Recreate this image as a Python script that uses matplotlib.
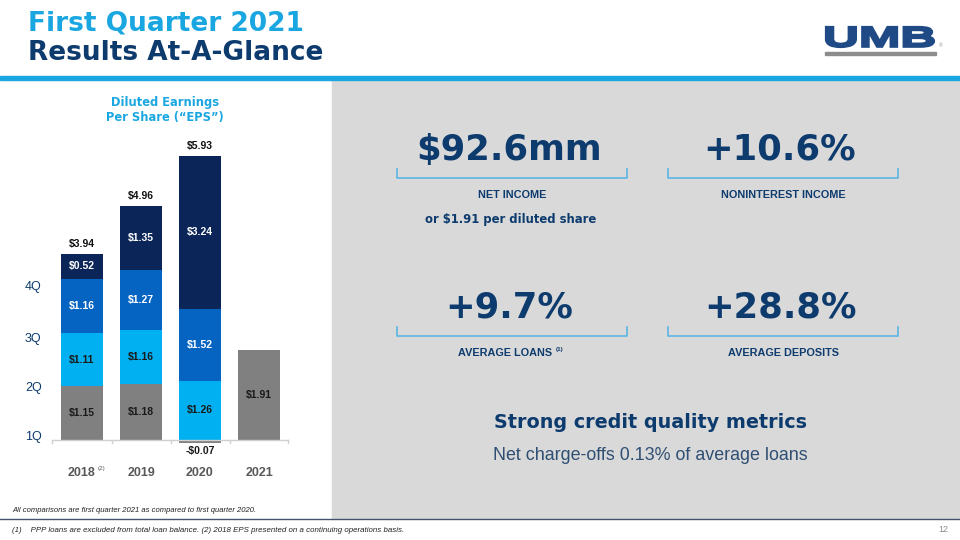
import matplotlib.pyplot as plt
from matplotlib.patches import Rectangle, PathPatch
from matplotlib.textpath import TextPath
from matplotlib.font_manager import FontProperties
from matplotlib.transforms import Affine2D

plt.rcParams['font.family'] = ['Liberation Sans', 'DejaVu Sans']

# EPS by quarter (diluted)
years = ['2018', '2019', '2020', '2021']
q1 = [1.15, 1.18, -0.07, 1.91]
q2 = [1.11, 1.16, 1.26, 0.0]
q3 = [1.16, 1.27, 1.52, 0.0]
q4 = [0.52, 1.35, 3.24, 0.0]
totals = ['$3.94', '$4.96', '$5.93', None]
quarter_labels = ['1Q', '2Q', '3Q', '4Q']

# headline metrics
kpi_values = ['$92.6mm', '+10.6%', '+9.7%', '+28.8%']
kpi_labels = ['NET INCOME', 'NONINTEREST INCOME', 'AVERAGE LOANS', 'AVERAGE DEPOSITS']

NAVY = '#0D3B6E'
LIGHT_BLUE = '#1AA7E1'
c_q1, c_q2, c_q3, c_q4 = '#808080', '#00B0F0', '#0563C1', '#0B2559'
HEAVY = 'DejaVu Sans'

W, H = 960, 540
fig = plt.figure(figsize=(9.6, 5.4), dpi=100)
fig.patch.set_facecolor('white')


def fx(px):
    return px / W


def fy(py):
    return 1 - py / H


# background layer in pixel coordinates
bg = fig.add_axes([0, 0, 1, 1])
bg.set_xlim(0, W)
bg.set_ylim(H, 0)
bg.axis('off')
bg.add_patch(Rectangle((332, 80), W - 332, 438, color='#D9D9D9', zorder=0))
bg.add_patch(Rectangle((0, 76), W, 4, color=LIGHT_BLUE, zorder=1))
bg.plot([0, W], [519, 519], color='#44546A', lw=1)

# title
bg.text(28, 23, 'First Quarter 2021', color=LIGHT_BLUE, fontsize=19, fontweight='bold', va='center',
        family=HEAVY)
bg.text(28, 53, 'Results At-A-Glance', color=NAVY, fontsize=19, fontweight='bold', va='center',
        family=HEAVY)

# logo, stretched to the box it fills in the slide
tp = TextPath((0, 0), 'UMB', size=1, prop=FontProperties(family='Liberation Sans', weight='bold'))
ext = tp.get_extents()
lx0, lx1, ly0, ly1 = 826, 934, 27, 47
tr = (Affine2D().translate(-ext.x0, -ext.y0)
      .scale((lx1 - lx0) / ext.width, -(ly1 - ly0) / ext.height)
      .translate(lx0, ly1))
bg.add_patch(PathPatch(tr.transform_path(tp), facecolor='#1F4A85', edgecolor='#1F4A85', lw=1.6))
bg.add_patch(Rectangle((825, 52), 111, 3, color='#8C8C8C'))
bg.text(939, 46, '®', color='#8C8C8C', fontsize=3.5, va='center')

# chart title
bg.text(165, 110, 'Diluted Earnings\nPer Share (“EPS”)', color=LIGHT_BLUE, fontsize=8.3,
        fontweight='bold', ha='center', va='center', linespacing=1.2, family=HEAVY)

# KPI panels
centers = [(512, 150), (783, 150), (512, 308), (783, 308)]
label_shift = [0, 0, -7, 0]
for (cx, cy), val, lab, dx in zip(centers, kpi_values, kpi_labels, label_shift):
    bg.text(cx - 3, cy, val, color=NAVY, fontsize=25.5, fontweight='bold', ha='center', va='center',
            family=HEAVY)
    x0, x1, yb = cx - 115, cx + 115, cy + 28
    bg.plot([x0, x0, x1, x1], [yb - 9, yb, yb, yb - 9], color='#5BB6E3', lw=1.2)
    bg.text(cx + dx, cy + 45, lab, color=NAVY, fontsize=7.8, fontweight='bold', ha='center', va='center')
bg.text(556, 350, '(1)', color=NAVY, fontsize=4.5, fontweight='bold', va='center')
bg.text(511, 220, 'or $1.91 per diluted share', color=NAVY, fontsize=8.4, fontweight='bold',
        ha='center', va='center', family=HEAVY)

bg.text(650, 422, 'Strong credit quality metrics', color=NAVY, fontsize=13.8, fontweight='bold',
        ha='center', va='center', family=HEAVY)
bg.text(650, 455, 'Net charge-offs 0.13% of average loans', color='#2F4F73', fontsize=12.9,
        ha='center', va='center')

# footnotes
bg.text(12, 511, 'All comparisons are first quarter 2021 as compared to first quarter 2020.',
        color='#222222', fontsize=5.5, style='italic', va='center')
bg.text(12, 530, '(1)    PPP loans are excluded from total loan balance. (2) 2018 EPS presented on a continuing operations basis.',
        color='#222222', fontsize=5.7, style='italic', va='center')
bg.text(948, 530, '12', color='#8C8C8C', fontsize=6.5, ha='right', va='center')

# EPS stacked bars
px_per_unit = 47.2
base_px = 440
ylo, yhi = -0.5, 6.5
xlo, xhi = -0.9, 3.6
left_px = 82 + xlo * 59
right_px = 82 + xhi * 59
top_px = base_px - yhi * px_per_unit
bot_px = base_px - ylo * px_per_unit
ax = fig.add_axes([fx(left_px), fy(bot_px), fx(right_px - left_px), (bot_px - top_px) / H])
ax.set_xlim(xlo, xhi)
ax.set_ylim(ylo, yhi)
ax.axis('off')

x = list(range(len(years)))
bw = 0.71
b2 = [max(v, 0) for v in q1]
b3 = [a + b for a, b in zip(b2, q2)]
b4 = [a + b for a, b in zip(b3, q3)]
ax.bar(x, q1, bw, color=c_q1)
ax.bar(x, q2, bw, bottom=b2, color=c_q2)
ax.bar(x, q3, bw, bottom=b3, color=c_q3)
ax.bar(x, q4, bw, bottom=b4, color=c_q4)

for i in x:
    segs = [(q1[i], 0, '#1A1A1A'), (q2[i], b2[i], '#1A1A1A'), (q3[i], b3[i], 'white'), (q4[i], b4[i], 'white')]
    for v, b, col in segs:
        if v > 0:
            ax.text(i, b + v / 2, f'${v:.2f}', color=col, fontsize=7.5, fontweight='bold',
                    ha='center', va='center')
        elif v < 0:
            ax.text(i, v - 0.05, f'-${-v:.2f}', color='#1A1A1A', fontsize=7.5, fontweight='bold',
                    ha='center', va='top')
    if totals[i]:
        ax.text(i, b4[i] + q4[i] + 0.1, totals[i], color='#111111', fontsize=7.5, fontweight='bold',
                ha='center', va='bottom')
    ax.text(i, -0.7, years[i], color='#595959', fontsize=9, fontweight='bold', ha='center', va='center',
            clip_on=False)
ax.text(0.33, -0.6, '(2)', color='#595959', fontsize=4.5, ha='center', va='center', clip_on=False)

# baseline with category ticks
ax.plot([-0.51, 3.49], [0, 0], color='#D0D0D0', lw=1)
for t in [-0.51, 0.5, 1.5, 2.5, 3.49]:
    ax.plot([t, t], [0, -0.06], color='#D0D0D0', lw=1)

# quarter labels on the left
q_pos = [437, 388, 339, 287]
for lab, py in zip(quarter_labels, q_pos):
    bg.text(25, py, lab, color=NAVY, fontsize=9, ha='left', va='center')

fig.savefig('out.png', dpi=100, facecolor='white')
